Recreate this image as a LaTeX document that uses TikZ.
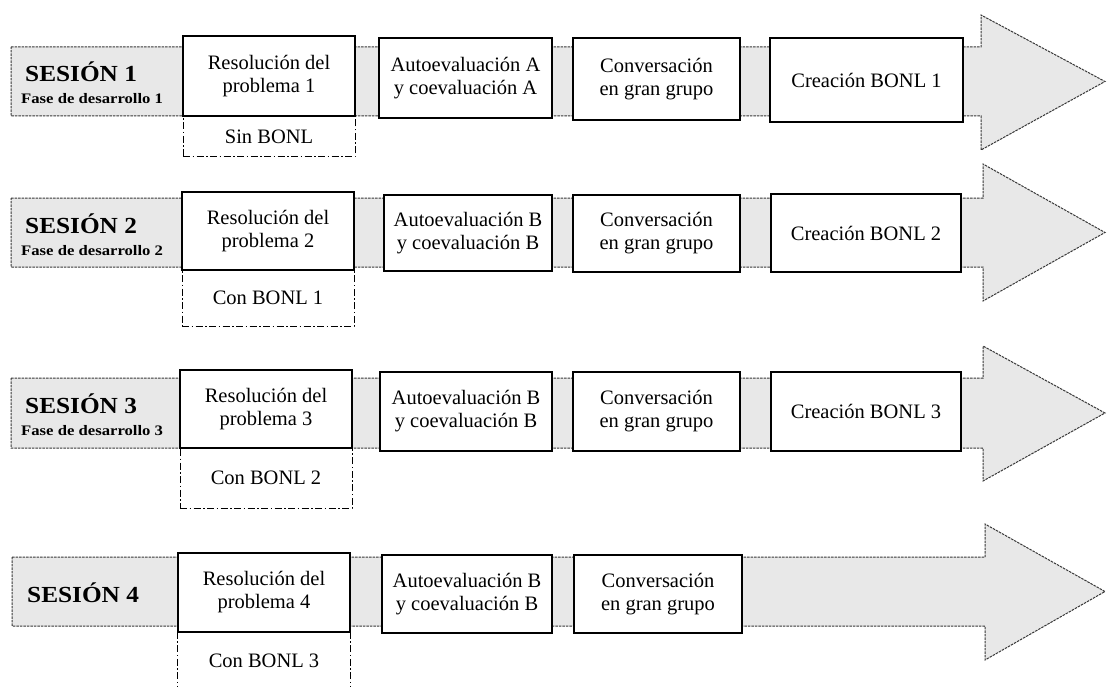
\documentclass[tikz,border=0pt]{standalone}
\usepackage{graphicx}
\usepackage{fontspec}
\setmainfont{Liberation Serif}

\newcommand\boxfont{\fontsize{20.5}{23}\selectfont}
\newcommand\sesfont{\fontsize{23}{26}\selectfont\bfseries}
\newcommand\fasefont{\fontsize{14.5}{16}\selectfont\bfseries}

\tikzset{
  lane/.style={fill=gray!18, draw=black!78, line width=1pt,
               dash pattern=on 2.5pt off 1pt, line join=miter},
  stagebox/.style={draw=black, fill=white, line width=1.1pt, inner sep=0pt,
                   align=center, font=\boxfont},
  dashdotline/.style={draw=black, line width=1pt,
                      dash pattern=on 7pt off 2.5pt on 1.5pt off 2.5pt},
  bonlbox/.style={dashdotline, inner sep=0pt, align=center, font=\boxfont},
  bonlopen/.style={inner sep=0pt, align=center, font=\boxfont},
  sestitle/.style={anchor=base west, inner sep=0pt, font=\sesfont},
  fasetitle/.style={anchor=base west, inner sep=0pt, font=\fasefont},
}

% wide arrow: left, body top, body bottom, head x, head top, head bottom
\newcommand\lanearrow[6]{%
  \draw[lane] (#1,#2) -- (#4,#2) -- (#4,#5) -- (1105,{(#2+#3)/2})
    -- (#4,#6) -- (#4,#3) -- (#1,#3) -- cycle;}

% box from corners: style, name, x1, x2, y1, y2, text
\newcommand\stageat[7]{%
  \node[#1, minimum width={#4-#3}, minimum height={#6-#5}] (#2)
    at ({(#3+#4)/2},{(#5+#6)/2}) {#7};}

\begin{document}
\begin{tikzpicture}[x=1pt,y=-1pt]
\useasboundingbox (0,0) rectangle (1107,687);

% ---- lanes ----
\lanearrow{11}{47}{116}{981}{15}{150}
\lanearrow{11}{198}{267}{983}{164}{301}
\lanearrow{11}{378}{448}{983}{346}{481}
\lanearrow{12}{557}{626}{985}{524}{660}

% ---- session titles ----
\node[sestitle] (s1) at (25,82) {\scalebox{1.1}[1]{SESIÓN 1}};
\node[fasetitle] (f1) at (21,104) {\scalebox{1.15}[1]{Fase de desarrollo 1}};
\node[sestitle] (s2) at (25,233) {\scalebox{1.1}[1]{SESIÓN 2}};
\node[fasetitle] (f2) at (21,255) {\scalebox{1.15}[1]{Fase de desarrollo 2}};
\node[sestitle] (s3) at (25,413) {\scalebox{1.1}[1]{SESIÓN 3}};
\node[fasetitle] (f3) at (21,435) {\scalebox{1.15}[1]{Fase de desarrollo 3}};
\node[sestitle] (s4) at (27,602) {\scalebox{1.1}[1]{SESIÓN 4}};

% ---- BONL boxes below the problem boxes ----
\stageat{bonlbox}{b1}{183}{355}{116}{157}{Sin BONL}
\stageat{bonlbox}{b2}{182}{354}{270}{326}{Con BONL 1}
\stageat{bonlbox}{b3}{180}{352}{448}{508}{Con BONL 2}
\stageat{bonlopen}{b4}{178}{350}{632}{690}{Con BONL 3}
\draw[dashdotline] (b4.north west) -- (b4.south west);
\draw[dashdotline] (b4.north east) -- (b4.south east);

% ---- session 1 ----
\stageat{stagebox}{r1}{183}{355}{36}{116}{Resolución del\\problema 1}
\stageat{stagebox}{a1}{379}{552}{38}{118}{Autoevaluación A\\y coevaluación A}
\stageat{stagebox}{c1}{573}{740}{38}{120}{Conversación\\en gran grupo}
\stageat{stagebox}{k1}{770}{963}{38}{122}{Creación BONL 1}

% ---- session 2 ----
\stageat{stagebox}{r2}{182}{354}{192}{270}{Resolución del\\problema 2}
\stageat{stagebox}{a2}{384}{552}{195}{271}{Autoevaluación B\\y coevaluación B}
\stageat{stagebox}{c2}{573}{740}{195}{272}{Conversación\\en gran grupo}
\stageat{stagebox}{k2}{771}{961}{194}{272}{Creación BONL 2}

% ---- session 3 ----
\stageat{stagebox}{r3}{180}{352}{370}{448}{Resolución del\\problema 3}
\stageat{stagebox}{a3}{380}{552}{372}{451}{Autoevaluación B\\y coevaluación B}
\stageat{stagebox}{c3}{573}{740}{372}{451}{Conversación\\en gran grupo}
\stageat{stagebox}{k3}{771}{961}{372}{451}{Creación BONL 3}

% ---- session 4 ----
\stageat{stagebox}{r4}{178}{350}{553}{632}{Resolución del\\problema 4}
\stageat{stagebox}{a4}{382}{552}{555}{633}{Autoevaluación B\\y coevaluación B}
\stageat{stagebox}{c4}{574}{742}{555}{633}{Conversación\\en gran grupo}
\end{tikzpicture}
\end{document}
